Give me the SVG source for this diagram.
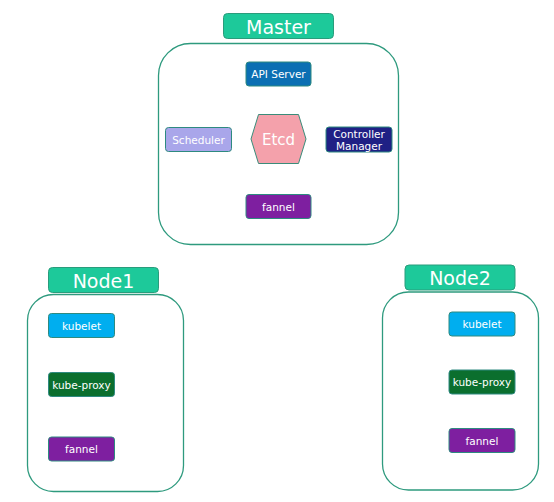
<svg xmlns="http://www.w3.org/2000/svg" width="554" height="502" viewBox="0 0 554 502">
<style>
text{font-family:"DejaVu Sans",Verdana,sans-serif;fill:#ffffff;text-anchor:middle;dominant-baseline:central}
.title{fill:#1dc99a;stroke:#2a9c7c;stroke-width:1}
.title-t{font-size:19px}
.cont{fill:#ffffff;stroke:#2e9a7e;stroke-width:1.3}
.box{stroke:#2e8a80;stroke-width:1}
.bt{font-size:10.5px}
</style>
<rect width="554" height="502" fill="#ffffff"/>
<g id="master">
<rect class="cont" x="158.5" y="43.5" width="240" height="201" rx="32"/>
<g id="master-label"><rect class="title" x="223.5" y="13.5" width="110" height="25" rx="4"/><text class="title-t" x="278.5" y="26.5">Master</text></g>
<g id="api-server"><rect class="box" x="246" y="62" width="65" height="24" rx="3" fill="#0b6fb3"/><text class="bt" x="278.5" y="74">API Server</text></g>
<g id="scheduler"><rect class="box" x="165.5" y="127.5" width="66" height="24" rx="3" fill="#a9a6ea"/><text class="bt" x="198.5" y="139.5">Scheduler</text></g>
<g id="etcd"><polygon points="251,139 258.5,114.5 298.5,114.5 306,139 298.5,163.5 258.5,163.5" fill="#f4a1ab" stroke="#3a8c7a" stroke-width="1"/><text x="278.5" y="139.5" font-size="15">Etcd</text></g>
<g id="controller-manager"><rect class="box" x="326" y="127" width="66" height="25" rx="3" fill="#1f2085"/><text class="bt" x="359" y="133.5">Controller</text><text class="bt" x="359" y="145.5">Manager</text></g>
<g id="master-fannel"><rect class="box" x="246" y="194.5" width="65" height="24" rx="3" fill="#7e1fa0"/><text class="bt" x="278.5" y="206.5">fannel</text></g>
</g>
<g id="node1">
<rect class="cont" x="27.5" y="294.5" width="156" height="197" rx="26"/>
<g id="node1-label"><rect class="title" x="48.5" y="267.5" width="110" height="25" rx="4"/><text class="title-t" x="103.5" y="280.5">Node1</text></g>
<g id="node1-kubelet"><rect class="box" x="48.5" y="313.5" width="66" height="24" rx="3" fill="#00aeef"/><text class="bt" x="81.5" y="325.5">kubelet</text></g>
<g id="node1-kube-proxy"><rect class="box" x="48.5" y="372.5" width="66" height="24" rx="3" fill="#0b6f2e"/><text class="bt" x="81.5" y="384.5">kube-proxy</text></g>
<g id="node1-fannel"><rect class="box" x="48.5" y="437" width="66" height="24" rx="3" fill="#7e1fa0"/><text class="bt" x="81.5" y="449">fannel</text></g>
</g>
<g id="node2">
<rect class="cont" x="382.5" y="292" width="156" height="198" rx="26"/>
<g id="node2-label"><rect class="title" x="405" y="265" width="110" height="25" rx="4"/><text class="title-t" x="460" y="278">Node2</text></g>
<g id="node2-kubelet"><rect class="box" x="449" y="312" width="66" height="24" rx="3" fill="#00aeef"/><text class="bt" x="482" y="324">kubelet</text></g>
<g id="node2-kube-proxy"><rect class="box" x="449" y="370" width="66" height="24" rx="3" fill="#0b6f2e"/><text class="bt" x="482" y="382">kube-proxy</text></g>
<g id="node2-fannel"><rect class="box" x="449" y="428.5" width="66" height="24" rx="3" fill="#7e1fa0"/><text class="bt" x="482" y="440.5">fannel</text></g>
</g>
<g id="connectors"></g>
</svg>
